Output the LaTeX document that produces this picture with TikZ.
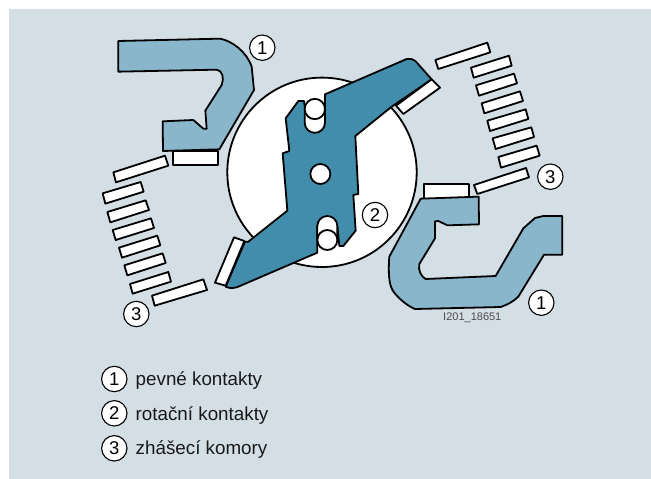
\documentclass[tikz,border=0pt]{standalone}
\usepackage{fontspec}
\setmainfont{Liberation Sans}
\definecolor{panel}{HTML}{D3DEE5}
\definecolor{fixedc}{HTML}{8AB6CC}
\definecolor{rotorc}{HTML}{418DAB}
\tikzset{
  outl/.style={draw=black,line width=1.8pt,line join=round},
  whitep/.style={outl,fill=white},
  contactp/.style={outl,fill=fixedc},
  rotorp/.style={outl,fill=rotorc},
  numc/.style={circle,draw=black,fill=white,line width=1.1pt,minimum size=25.4pt,inner sep=0pt,font=\fontsize{18.5}{18.5}\selectfont},
  legtext/.style={anchor=base west,inner sep=0pt,font=\fontsize{18.8}{20}\selectfont,text=black!90}
}
\newcommand{\slat}[8]{\draw[whitep] (#1,#2) -- (#3,#4) -- (#5,#6) -- (#7,#8) -- cycle;}
\begin{document}
\begin{tikzpicture}[x=1pt,y=-1pt]
\useasboundingbox (0,0) rectangle (651,479);
\fill[panel] (9,9) rectangle (651,479);
% disc
\draw[whitep] (322,172.3) circle[radius=94.7];
% contact top-left
\begin{scope}[shift={(90,20)},x=1pt/3,y=-1pt/3]
\draw[contactp] (85,63) -- (390,56) .. controls (425,62) and (470,95) .. (485,140) -- (492,210) -- (388,388) -- (219,393) -- (218,304) -- (310,300) -- (340,326) -- (350,326) -- (346,272) -- (395,195) .. controls (403,175) and (398,152) .. (380,149) -- (85,155) -- cycle;
\draw[whitep] (249,393) rectangle (385,436);
\end{scope}
% contact bottom-right
\begin{scope}[shift={(380,160)},x=1pt/3,y=-1pt/3]
\draw[whitep] (132,72) rectangle (266,116);
\draw[contactp] (122,116) -- (296,110) -- (297,193) -- (202,196) -- (175,183) -- (165,184) -- (165,235) -- (118,312) .. controls (113,330) and (125,352) .. (137,357) -- (347,348) -- (430,205) -- (465,174) -- (490,168) -- (547,168) -- (547,284) -- (492,284) -- (415,410) .. controls (400,425) and (380,435) .. (362,441) -- (105,447) .. controls (75,435) and (40,400) .. (35,385) .. controls (28,370) and (24,340) .. (28,290) -- cycle;
\end{scope}
% rotor
\begin{scope}[shift={(210,40)},x=1pt/3,y=-1pt/3]
\draw[rotorp] (345,163) -- (590,57) .. controls (600,54) and (610,58) .. (618,65) -- (665,118) -- (545,200) -- (436,288) -- (445,462) -- (430,465) -- (437,572) -- (400,618) -- (388,618) -- (382,558) -- (322,558) -- (322,638) -- (85,740) .. controls (70,746) and (58,745) .. (47,740) -- (105,605) -- (115,605) -- (232,512) -- (218,340) -- (238,333) -- (227,235) -- (265,183) -- (282,183) -- (285,207) -- (345,207) -- cycle;
\draw[whitep] (665,118) -- (690,143) -- (580,222) -- (558,197) -- cycle;
\draw[whitep] (72,592) -- (103,603) -- (47,737) -- (15,728) -- cycle;
\draw[whitep] (331,402) circle[radius=30];
\draw[whitep] (284,207) -- (284,248) arc[start angle=180,end angle=0,radius=30.5] -- (345,207);
\draw[whitep] (314.5,207) circle[radius=30.5];
\draw[whitep] (322,600) -- (322,558) arc[start angle=180,end angle=360,radius=30] -- (382,600);
\draw[whitep] (352,600) circle[radius=30];
\end{scope}
% left chamber
\begin{scope}[shift={(90,150)},x=1pt/3,y=-1pt/3]
\slat{70}{67}{225}{17}{235}{47}{78}{97}
\slat{38}{130}{152}{96}{161}{125}{46}{161}
\slat{52}{186}{167}{151}{177}{180}{61}{217}
\slat{68}{240}{183}{205}{192}{234}{77}{270}
\slat{87}{293}{202}{257}{211}{286}{96}{323}
\slat{103}{346}{218}{310}{227}{339}{112}{376}
\slat{120}{402}{235}{366}{243}{395}{128}{431}
\slat{186}{437}{340}{388}{351}{420}{194}{467}
\end{scope}
% right chamber
\begin{scope}[shift={(430,30)},x=1pt/3,y=-1pt/3]
\slat{16}{90}{172}{38}{181}{67}{25}{117}
\slat{123}{113}{237}{77}{245}{107}{131}{143}
\slat{138}{166}{252}{131}{261}{160}{147}{197}
\slat{155}{220}{270}{184}{279}{213}{163}{250}
\slat{172}{272}{287}{238}{295}{267}{180}{303}
\slat{188}{325}{304}{292}{312}{321}{197}{357}
\slat{205}{381}{320}{347}{329}{377}{213}{413}
\slat{132}{465}{288}{414}{297}{442}{142}{492}
\end{scope}
% numbers
\node[numc] (n1a) at (262.3,47.7) {1};
\node[numc] (n1b) at (541.3,302.7) {1};
\node[numc] (n2) at (375,215) {2};
\node[numc] (n3a) at (550.3,176.7) {3};
\node[numc] (n3b) at (136.3,314) {3};
\node[anchor=center,inner sep=0pt,font=\fontsize{11}{11}\selectfont,text=black!70] (ref) at (472.3,317.3) {I201\_18651};
% legend
\node[numc] (l1) at (114.3,379) {1};
\node[numc] (l2) at (114.3,413.3) {2};
\node[numc] (l3) at (114.3,448.3) {3};
\node[legtext] (t1) at (135.5,385) {pevné kontakty};
\node[legtext] (t2) at (135.5,420) {rotační kontakty};
\node[legtext] (t3) at (135.5,454.5) {zhášecí komory};
\end{tikzpicture}
\end{document}
